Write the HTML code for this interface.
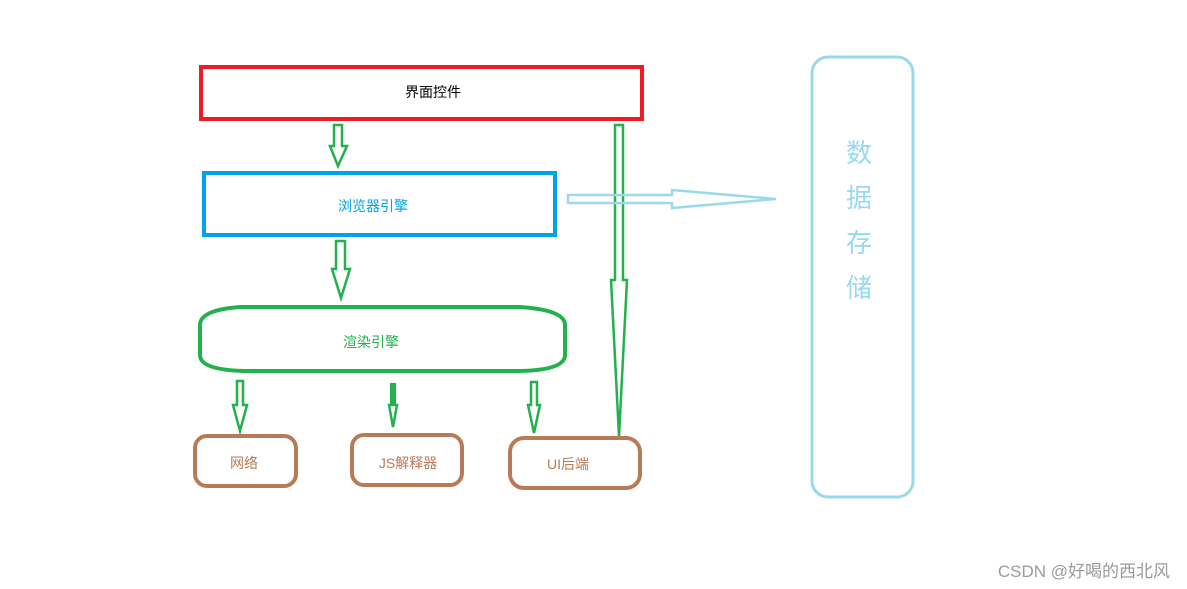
<html><head><style>body{margin:0;background:#fff}svg text{font-family:"Liberation Sans","Noto Sans CJK SC",sans-serif}</style></head><body>
<svg width="1187" height="589" xmlns="http://www.w3.org/2000/svg">
<rect x="201" y="67" width="441" height="52" fill="none" stroke="#ed1c24" stroke-width="4"/>
<text x="433" y="97" font-size="14" text-anchor="middle" fill="#000">界面控件</text>
<rect x="204" y="173" width="351" height="62" fill="none" stroke="#00a2e8" stroke-width="4"/>
<text x="373" y="211" font-size="14" text-anchor="middle" fill="#00a2e8">浏览器引擎</text>
<path d="M240 307 L520 307 Q565 310 565 325 L565 355 Q565 370 520 371 L245 371 Q200 370 200 355 L200 325 Q200 310 240 307 Z" fill="none" stroke="#22b14c" stroke-width="4"/>
<text x="371" y="347" font-size="14" text-anchor="middle" fill="#22b14c">渲染引擎</text>
<g fill="none" stroke="#22b14c" stroke-width="2.5">
<polygon points="334,125 342,125 342,146 347,146 338,166 330,146 334,146"/>
<polygon points="336,241 345,241 345,269 350,269 341,298 332,269 336,269"/>
<polygon points="615,125 623,125 623,280 627,280 619,436 611,280 615,280"/>
<polygon points="237,381 243,381 243,405 247,405 240,431 233,405 237,405"/>
<polygon points="531,382 537,382 537,405 540,405 534,433 528,405 531,405"/>
</g>
<rect x="390" y="383" width="6" height="22" fill="#22b14c"/>
<polygon points="389,405 397,405 393,427" fill="none" stroke="#22b14c" stroke-width="2.5"/>
<polygon points="568,195 672,195 672,190 776,199 672,208 672,203 568,203" fill="none" stroke="#99d9ea" stroke-width="2.5"/>
<g fill="none" stroke="#b97a57" stroke-width="4">
<rect x="195" y="436" width="101" height="50" rx="12"/>
<rect x="352" y="435" width="110" height="50" rx="12"/>
<rect x="510" y="438" width="130" height="50" rx="14"/>
</g>
<g font-size="14" fill="#b97a57" text-anchor="middle">
<text x="244" y="468">网络</text><text x="408" y="468">JS解释器</text><text x="568" y="469">UI后端</text>
</g>
<rect x="812" y="57" width="101" height="440" rx="16" fill="none" stroke="#99d9ea" stroke-width="3"/>
<g font-size="26" fill="#99d9ea" text-anchor="middle">
<text x="859" y="162">数</text><text x="859" y="207">据</text><text x="859" y="252">存</text><text x="859" y="297">储</text>
</g>
<text x="1170" y="577" font-size="17" fill="#9a9a9a" text-anchor="end">CSDN @好喝的西北风</text>
</svg></body></html>
